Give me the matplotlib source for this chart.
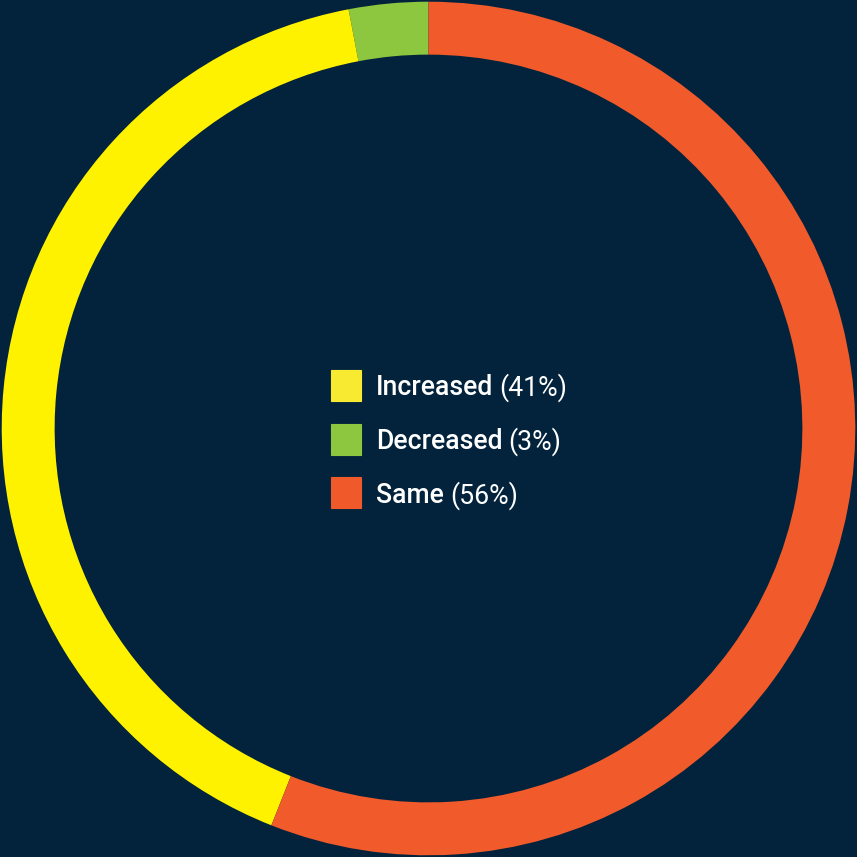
import matplotlib.pyplot as plt
from matplotlib.patches import Rectangle

# Share of responses
labels = ["Increased", "Decreased", "Same"]
shares = [41, 3, 56]
colors = ["#FFF200", "#8DC63F", "#F15A2B"]
swatch_colors = ["#F7EA30", "#8DC63F", "#F05A2B"]

bg = "#02233B"
plt.rcParams['font.family'] = ['Roboto', 'DejaVu Sans']

fig = plt.figure(figsize=(8.57, 8.57), dpi=100, facecolor=bg)
ax = fig.add_axes([0, 0, 1, 1])
ax.set_facecolor(bg)

# ring: starts at 12 o'clock, green then yellow running counter-clockwise, orange the rest
order = [1, 0, 2]
ax.pie([shares[i] for i in order], colors=[colors[i] for i in order],
       startangle=90, counterclock=True, radius=1.0,
       wedgeprops=dict(width=0.124, linewidth=0))
ax.set_xlim(-1.004, 1.004)
ax.set_ylim(-1.004, 1.004)
ax.set_aspect('equal')
ax.axis('off')

# legend in the middle of the ring
W, H = 857, 857
renderer = fig.canvas.get_renderer()
row_y = [385, 439, 493]
for lab, pct, col, y in zip(labels, shares, swatch_colors, row_y):
    fig.patches.append(Rectangle((331 / W, 1 - (y + 15.5) / H), 30 / W, 31 / H,
                                 transform=fig.transFigure, facecolor=col,
                                 edgecolor=col, linewidth=0.8))
    t = fig.text(376 / W, 1 - (y + 2.5) / H, lab, color="white", fontsize=19.2,
                 fontweight="medium", va="center", ha="left")
    bb = t.get_window_extent(renderer)
    fig.text((bb.x1 + 6) / W, 1 - (y + 2.5) / H, f"({pct}%)", color="white",
             fontsize=19.2, va="center", ha="left")

fig.savefig("out.png", dpi=100, facecolor=bg)
